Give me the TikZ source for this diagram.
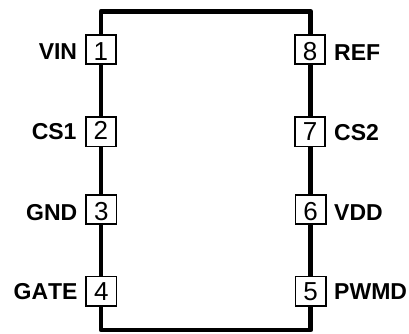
\documentclass[tikz,border=0pt]{standalone}
\usepackage{fontspec}
\setmainfont[Kerning=Off]{Liberation Sans}
\tikzset{
  body/.style={line width=4.8pt,line join=round,black},
  pinbox/.style={draw=black,line width=1.8pt,fill=white,minimum width=30.2pt,minimum height=29.5pt,inner sep=0pt,font=\fontsize{26}{28}\selectfont,text height=#1,text depth=0pt},
  pinlabel/.style={inner sep=0pt,font=\fontsize{23}{25}\bfseries\selectfont},
}
\begin{document}
\begin{tikzpicture}[x=1pt,y=-1pt]
\useasboundingbox (0,0) rectangle (409,333);
\coordinate (tl) at (101,11.3);
\coordinate (tr) at (310.7,11.3);
\coordinate (bl) at (101,330);
\coordinate (br) at (310.7,330);
\node[pinbox=22pt] (p1) at (100.8,49.5) {1};
\node[pinbox=16pt] (p2) at (100.8,131.7) {2};
\node[pinbox=22pt] (p3) at (101.3,209.5) {3};
\node[pinbox=17.6pt] (p4) at (101.3,291.2) {4};
\node[pinbox=22.5pt] (p8) at (310,49.5) {8};
\node[pinbox=17.6pt] (p7) at (310,131.7) {7};
\node[pinbox=22pt] (p6) at (310.5,209.5) {6};
\node[pinbox=17.6pt] (p5) at (310.5,291.2) {5};
\draw[body] (p1.north -| tl) -- (tl) -- (tr) -- (p8.north -| tr);
\draw[body] (p1.south -| tl) -- (p2.north -| tl);
\draw[body] (p2.south -| tl) -- (p3.north -| tl);
\draw[body] (p3.south -| tl) -- (p4.north -| tl);
\draw[body] (p4.south -| bl) -- (bl) -- (br) -- (p5.south -| br);
\draw[body] (p8.south -| tr) -- (p7.north -| tr);
\draw[body] (p7.south -| tr) -- (p6.north -| tr);
\draw[body] (p6.south -| tr) -- (p5.north -| tr);
\node[pinlabel,anchor=base east] (l1) at (77.3,59.5) {VIN};
\node[pinlabel,anchor=base east] (l2) at (76.7,139.5) {CS1};
\node[pinlabel,anchor=base east] (l3) at (77.5,220) {GND};
\node[pinlabel,anchor=base east] (l4) at (77.7,299.5) {GATE};
\node[pinlabel,anchor=base west] (l8) at (334,60) {REF};
\node[pinlabel,anchor=base west] (l7) at (334,140) {CS2};
\node[pinlabel,anchor=base west] (l6) at (334,220) {VDD};
\node[pinlabel,anchor=base west] (l5) at (334,299.5) {PWMD};
\end{tikzpicture}
\end{document}
